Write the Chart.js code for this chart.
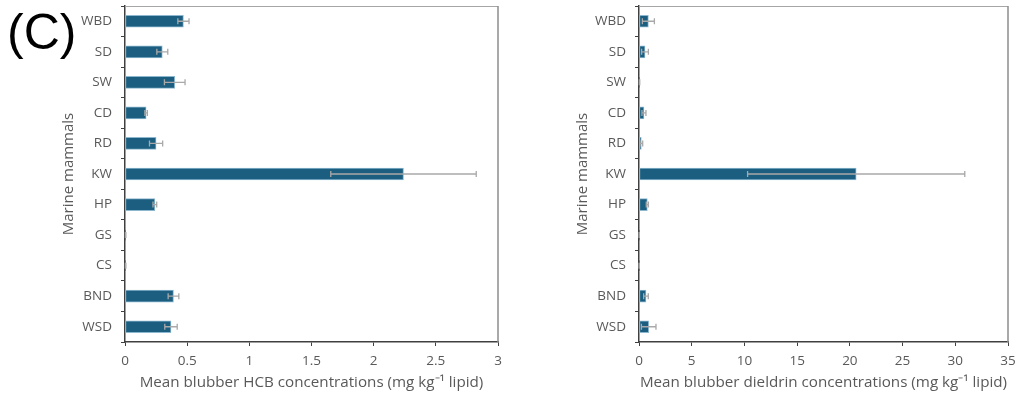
<!DOCTYPE html>
<html>
<head>
<meta charset="utf-8">
<script src="https://cdn.jsdelivr.net/npm/chart.js@4"></script>
<style>
  html, body { margin: 0; padding: 0; background: #fff; }
  #wrap { position: relative; width: 1016px; height: 394px; overflow: hidden; }
  #c1 { position: absolute; left: 0; top: 0; }
  #c2 { position: absolute; left: 520px; top: 0; }
  #lbl { position: absolute; left: 7px; top: 7px; font: 50px/1 "Liberation Sans", Arial, sans-serif; color: #000; }
</style>
</head>
<body>
<div id="wrap">
  <canvas id="c1" width="520" height="394"></canvas>
  <canvas id="c2" width="496" height="394"></canvas>
  <div id="lbl">(C)</div>
</div>
<script>
const categories = ["WBD", "SD", "SW", "CD", "RD", "KW", "HP", "GS", "CS", "BND", "WSD"];
const hcbMean = [0.47, 0.30, 0.40, 0.17, 0.25, 2.24, 0.24, 0.005, 0.005, 0.39, 0.37];
const hcbErr  = [0.045, 0.044, 0.083, 0.01, 0.053, 0.585, 0.015, 0.002, 0.002, 0.043, 0.05];
const dieldrinMean = [0.89, 0.57, 0.05, 0.47, 0.22, 20.6, 0.79, 0.02, 0.02, 0.66, 0.92];
const dieldrinErr  = [0.57, 0.32, 0.02, 0.19, 0.13, 10.3, 0.1, 0.01, 0.01, 0.22, 0.69];
const hcbTicks = [0, 0.5, 1, 1.5, 2, 2.5, 3];
const dieldrinTicks = [0, 5, 10, 15, 20, 25, 30, 35];

const FONT = "'Open Sans', sans-serif";
const TEXT = "#595959";

const errorBarPlugin = {
  id: 'errorBars',
  afterDatasetsDraw(chart, args, opts) {
    const ctx = chart.ctx;
    const xs = chart.scales.x, ys = chart.scales.y;
    const means = chart.data.datasets[0].data;
    const errs = opts.errors || [];
    ctx.save();
    ctx.strokeStyle = '#a9a9a9';
    ctx.lineWidth = 1.3;
    means.forEach((m, i) => {
      const e = errs[i];
      if (!e) return;
      const y = ys.getPixelForValue(i);
      const x0 = xs.getPixelForValue(Math.max(0, m - e));
      const x1 = xs.getPixelForValue(m + e);
      ctx.beginPath();
      ctx.moveTo(x0, y); ctx.lineTo(x1, y);
      ctx.moveTo(x0, y - 3); ctx.lineTo(x0, y + 3);
      ctx.moveTo(x1, y - 3); ctx.lineTo(x1, y + 3);
      ctx.stroke();
    });
    ctx.restore();
  }
};

const framePlugin = {
  id: 'frame',
  afterDraw(chart) {
    const {left, right, top, bottom} = chart.chartArea;
    const ctx = chart.ctx;
    ctx.save();
    ctx.strokeStyle = '#a6a6a6';
    ctx.lineWidth = 1;
    ctx.beginPath();
    ctx.moveTo(left, top + 0.5); ctx.lineTo(right, top + 0.5);
    ctx.stroke();
    ctx.strokeStyle = '#8c8c8c';
    ctx.lineWidth = 1.5;
    ctx.beginPath();
    ctx.moveTo(right, top); ctx.lineTo(right, bottom);
    ctx.stroke();
    ctx.restore();
  }
};

function makeChart(id, means, errs, ticks, max, title, padLeft, yWidth, padRight) {
  return new Chart(document.getElementById(id), {
    type: 'bar',
    data: {
      labels: categories,
      datasets: [{
        data: means,
        backgroundColor: '#1b5e80',
        borderColor: '#8db7cf',
        borderWidth: 1,
        borderSkipped: false,
        barThickness: 12
      }]
    },
    options: {
      indexAxis: 'y',
      responsive: false,
      animation: false,
      devicePixelRatio: 1,
      layout: { padding: { left: padLeft, right: padRight, top: 6, bottom: 0 } },
      plugins: {
        legend: { display: false },
        tooltip: { enabled: false },
        errorBars: { errors: errs }
      },
      scales: {
        y: {
          type: 'category',
          offset: true,
          grid: { offset: true, drawOnChartArea: false, tickLength: 4, color: '#404040', lineWidth: 1 },
          border: { color: '#404040', width: 1.5 },
          ticks: { color: TEXT, font: { family: FONT, size: 13.5 }, padding: 9 },
          title: { display: true, text: 'Marine mammals', color: TEXT, font: { family: FONT, size: 15 }, padding: { top: 4, bottom: 4 } },
          afterFit(scale) { scale.width = yWidth; scale.paddingTop = 0; scale.paddingBottom = 0; }
        },
        x: {
          type: 'linear',
          min: 0,
          max: max,
          afterBuildTicks(scale) { scale.ticks = ticks.map(v => ({ value: v })); },
          grid: { drawOnChartArea: false, tickLength: 4, color: '#404040', lineWidth: 1 },
          border: { color: '#404040', width: 1.5 },
          ticks: { color: TEXT, font: { family: FONT, size: 13.5 }, padding: 7, maxRotation: 0,
                   callback: (v) => String(v) },
          title: { display: true, text: title, color: TEXT, font: { family: FONT, size: 15.2 }, padding: { top: 4, bottom: 2 } },
          afterFit(scale) { scale.height = 52; scale.paddingLeft = 0; scale.paddingRight = 0; }
        }
      }
    },
    plugins: [errorBarPlugin, framePlugin]
  });
}

makeChart('c1', hcbMean, hcbErr, hcbTicks, 3,
  'Mean blubber HCB concentrations (mg kg\u207B\u00B9 lipid)', 56, 69, 22);
makeChart('c2', dieldrinMean, dieldrinErr, dieldrinTicks, 35,
  'Mean blubber dieldrin concentrations (mg kg\u207B\u00B9 lipid)', 50, 69, 8);
</script>
</body>
</html>
